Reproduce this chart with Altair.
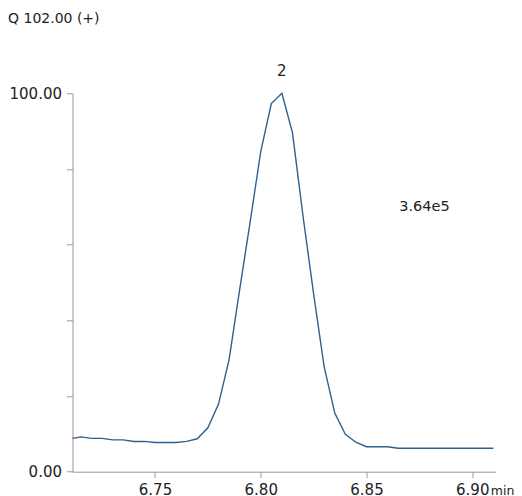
import altair as alt
import pandas as pd

times = [6.711, 6.715, 6.720, 6.725, 6.730, 6.735, 6.740, 6.745, 6.750, 6.755,
         6.760, 6.765, 6.770, 6.775, 6.780, 6.785, 6.790, 6.795, 6.800, 6.805,
         6.810, 6.815, 6.820, 6.825, 6.830, 6.835, 6.840, 6.845, 6.850, 6.855,
         6.860, 6.865, 6.870, 6.875, 6.880, 6.885, 6.890, 6.895, 6.900, 6.905,
         6.910]
intensity = [8.8, 9.2, 8.8, 8.8, 8.4, 8.4, 8.0, 8.0, 7.7, 7.7,
             7.7, 8.0, 8.7, 11.6, 17.8, 29.5, 48.0, 66.0, 84.6, 97.3,
             100.0, 89.6, 67.5, 47.0, 27.7, 15.5, 9.9, 7.8, 6.6, 6.6,
             6.6, 6.2, 6.2, 6.2, 6.2, 6.2, 6.2, 6.2, 6.2, 6.2,
             6.2]

x_ticks = [6.75, 6.80, 6.85, 6.90]
y_ticks = [0, 10, 20, 30, 40, 50, 60, 70, 80, 90, 100]

title_text = "Q 102.00 (+)"
peak_label = "2"
peak_time = 6.810
peak_value = 100.0
area_label = "3.64e5"
area_pos = (6.8774, 70)
unit_label = "min"
unit_pos = 6.9088

FONT = "DejaVu Sans"

df = pd.DataFrame({"t": times, "v": intensity})

xscale = alt.Scale(domain=[6.711, 6.911], nice=False, zero=False)
yscale = alt.Scale(domain=[0, 100], nice=False)

line = alt.Chart(df).mark_line(color="#2d6090", strokeWidth=1.4).encode(
    x=alt.X("t:Q", scale=xscale,
            axis=alt.Axis(values=x_ticks, format=".2f", title=None, grid=False,
                          tickSize=6, labelPadding=5, labelFontSize=15,
                          labelFont=FONT, labelColor="#222222",
                          domainColor="#999999", tickColor="#999999")),
    y=alt.Y("v:Q", scale=yscale,
            axis=alt.Axis(values=y_ticks, title=None, grid=False,
                          tickSize=6, labelPadding=5, labelFontSize=15,
                          labelFont=FONT, labelColor="#222222",
                          domainColor="#999999", tickColor="#999999",
                          labelExpr="datum.value == 100 ? '100.00' : datum.value == 50 ? '%' : datum.value == 0 ? '0.00' : ''")),
)

peak = alt.Chart(pd.DataFrame({"t": [peak_time], "v": [peak_value], "s": [peak_label]})).mark_text(
    font=FONT, fontSize=15, color="#222222", dy=-22, baseline="middle"
).encode(x=alt.X("t:Q", scale=xscale), y=alt.Y("v:Q", scale=yscale), text="s:N")

area = alt.Chart(pd.DataFrame({"t": [area_pos[0]], "v": [area_pos[1]], "s": [area_label]})).mark_text(
    font=FONT, fontSize=14.5, color="#222222", baseline="middle"
).encode(x=alt.X("t:Q", scale=xscale), y=alt.Y("v:Q", scale=yscale), text="s:N")

unit = alt.Chart(pd.DataFrame({"t": [unit_pos], "v": [0], "s": [unit_label]})).mark_text(
    font=FONT, fontSize=12.5, color="#222222", dy=23, align="left", baseline="alphabetic"
).encode(x=alt.X("t:Q", scale=xscale), y=alt.Y("v:Q", scale=yscale), text="s:N")

title = alt.Chart(pd.DataFrame({"s": [title_text]})).mark_text(
    font=FONT, fontSize=14, color="#222222", align="left", baseline="middle"
).encode(x=alt.value(-64.5), y=alt.value(-74.5), text="s:N")

chart = alt.layer(line, peak, area, unit, title).properties(
    width=423, height=378.4,
    padding={"left": 64.5, "top": 85.3, "right": 18.5, "bottom": 24.3},
    autosize=alt.AutoSizeParams(type="none"),
    background="white",
).configure_view(strokeWidth=0, stroke="transparent")

chart.save("out.html", embed_options={"renderer": "svg", "actions": False})
